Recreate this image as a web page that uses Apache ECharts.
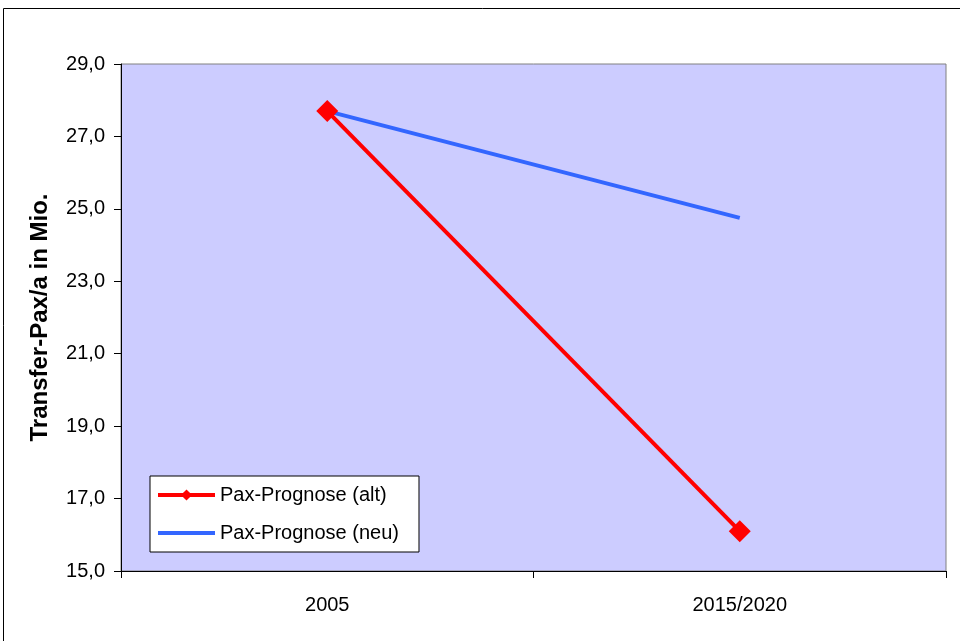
<!DOCTYPE html>
<html><head><meta charset="utf-8">
<script src="https://cdn.jsdelivr.net/npm/echarts@6/dist/echarts.min.js"></script>
<style>html,body{margin:0;padding:0;background:#fff}#c{width:960px;height:641px}</style>
</head><body><div id="c"></div>
<script>
var categories = ['2005', '2015/2020'];
var altValues = [27.7, 16.1];
var neuValues = [27.7, 24.75];
var yTicks = [15, 17, 19, 21, 23, 25, 27, 29];

var chart = echarts.init(document.getElementById('c'));
var font = 'Liberation Sans, Arial, sans-serif';
chart.setOption({
  animation: false,
  textStyle: { fontFamily: font },
  graphic: [{
    type: 'rect', shape: { x: 3.5, y: 8.5, width: 1000, height: 700 },
    style: { fill: 'none', stroke: '#000', lineWidth: 1 }, silent: true, z: -10
  }],
  grid: {
    left: 121, right: 14, top: 64, bottom: 70,
    show: true, backgroundColor: '#ccccff', borderColor: '#808080', borderWidth: 1
  },
  legend: {
    orient: 'vertical', left: 150, top: 476,
    backgroundColor: '#fff', borderColor: '#000', borderWidth: 1,
    padding: [9, 20, 9, 6], itemGap: 18, itemWidth: 57, itemHeight: 14,
    textStyle: { fontSize: 20, color: '#000', fontFamily: font },
    data: [
      { name: 'Pax-Prognose (alt)', lineStyle: { width: 4 } },
      { name: 'Pax-Prognose (neu)', itemStyle: { opacity: 0 }, lineStyle: { width: 4 } }
    ]
  },
  xAxis: {
    type: 'category', data: categories, boundaryGap: true,
    axisLine: { lineStyle: { color: '#000', width: 1 } },
    axisTick: { show: true, length: 7, lineStyle: { color: '#000' } },
    axisLabel: { fontSize: 20, color: '#000', margin: 24 },
    splitLine: { show: false }
  },
  yAxis: {
    type: 'value', min: 15, max: 29, interval: 2,
    name: 'Transfer-Pax/a in Mio.', nameLocation: 'middle', nameGap: 69,
    nameTextStyle: { fontSize: 24, fontWeight: 'bold', color: '#000' },
    axisLine: { show: true, lineStyle: { color: '#000', width: 1 } },
    axisTick: { show: true, length: 7, lineStyle: { color: '#000' } },
    axisLabel: { fontSize: 20, color: '#000', margin: 16,
      formatter: function (v) { return v.toFixed(1).replace('.', ','); } },
    splitLine: { show: false }
  },
  series: [{
    name: 'Pax-Prognose (neu)', type: 'line', data: neuValues,
    showSymbol: false, symbol: 'none',
    lineStyle: { color: '#3366ff', width: 4 }, itemStyle: { color: '#3366ff' }, z: 2
  }, {
    name: 'Pax-Prognose (alt)', type: 'line', data: altValues,
    symbol: 'diamond', symbolSize: 22,
    lineStyle: { color: '#ff0000', width: 4 }, itemStyle: { color: '#ff0000' }, z: 3
  }]
});
</script></body></html>
